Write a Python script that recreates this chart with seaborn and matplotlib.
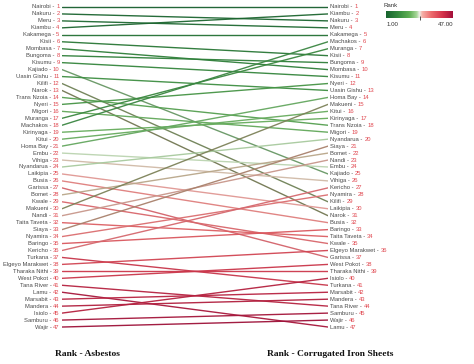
import numpy as np
import pandas as pd
import matplotlib
matplotlib.use("Agg")
import matplotlib.pyplot as plt
import seaborn as sns
from matplotlib.colors import LinearSegmentedColormap, to_rgb, Normalize
from matplotlib.transforms import offset_copy

# ---- data ----
asbestos_order = ["Nairobi", "Nakuru", "Meru", "Kiambu", "Kakamega", "Kisii", "Mombasa",
                  "Bungoma", "Kisumu", "Kajiado", "Uasin Gishu", "Kilifi", "Narok",
                  "Trans Nzoia", "Nyeri", "Migori", "Muranga", "Machakos", "Kirinyaga",
                  "Kitui", "Homa Bay", "Embu", "Vihiga", "Nyandarua", "Laikipia", "Busia",
                  "Garissa", "Bomet", "Kwale", "Makueni", "Nandi", "Taita Taveta", "Siaya",
                  "Nyamira", "Baringo", "Kericho", "Turkana", "Elgeyo Marakwet",
                  "Tharaka Nithi", "West Pokot", "Tana River", "Lamu", "Marsabit",
                  "Mandera", "Isiolo", "Samburu", "Wajir"]
iron_order = ["Nairobi", "Kiambu", "Nakuru", "Meru", "Kakamega", "Machakos", "Muranga",
              "Kisii", "Bungoma", "Mombasa", "Kisumu", "Nyeri", "Uasin Gishu", "Homa Bay",
              "Makueni", "Kitui", "Kirinyaga", "Trans Nzoia", "Migori", "Nyandarua",
              "Siaya", "Bomet", "Nandi", "Embu", "Kajiado", "Vihiga", "Kericho", "Nyamira",
              "Kilifi", "Laikipia", "Narok", "Busia", "Baringo", "Taita Taveta", "Kwale",
              "Elgeyo Marakwet", "Garissa", "West Pokot", "Tharaka Nithi", "Isiolo",
              "Turkana", "Marsabit", "Mandera", "Tana River", "Samburu", "Wajir", "Lamu"]
rank_asbestos = [asbestos_order.index(c) + 1 for c in asbestos_order]
rank_iron = [iron_order.index(c) + 1 for c in asbestos_order]
axis_titles = ["Rank - Asbestos", "Rank - Corrugated Iron Sheets"]

# ---- style ----
sns.set_theme(style="white")
plt.rcParams["font.family"] = ["Liberation Sans", "DejaVu Sans"]

cmap = LinearSegmentedColormap.from_list(
    "rg", [(0.0, "#17632f"), (0.18, "#348a3e"), (0.35, "#5faf55"), (0.46, "#a9d79b"),
           (0.5, "#eef0ea"), (0.54, "#f6b1a8"), (0.68, "#ec6a6c"), (0.85, "#d4324a"),
           (1.0, "#a30f3a")])
norm = Normalize(1, 47)

def line_color(a, b):
    ca = np.array(to_rgb(cmap(norm(a))))
    cb = np.array(to_rgb(cmap(norm(b))))
    mix = np.sqrt(ca * cb)
    d = abs(a - b) / 46
    return tuple(np.clip(mix * (0.95 - 0.2 * d), 0, 1))

rows = []
for c, a, b in zip(asbestos_order, rank_asbestos, rank_iron):
    rows.append({"county": c, "side": 0, "rank": a})
    rows.append({"county": c, "side": 1, "rank": b})
df = pd.DataFrame(rows)
palette = {c: line_color(a, b) for c, a, b in zip(asbestos_order, rank_asbestos, rank_iron)}

W, H = 474, 364
fig = plt.figure(figsize=(W / 100, H / 100), dpi=100)
ax = fig.add_axes([62 / W, 1 - 330.5 / H, (328 - 62) / W, (330.5 - 3.5) / H])
sns.lineplot(data=df, x="side", y="rank", hue="county", palette=palette,
             legend=False, estimator=None, sort=False, lw=1.0, alpha=0.95, ax=ax)
ax.set_xlim(0, 1)
ax.set_ylim(47.5, 0.5)
ax.axis("off")

fig.canvas.draw()
renderer = fig.canvas.get_renderer()
fs = 4.25
name_col = "#4a4a4a"
num_col = "#e0474f"
space = 1.4

for c, a in zip(asbestos_order, rank_asbestos):
    t = ax.text(0, a, str(a), ha="right", va="center", fontsize=fs, color=num_col,
                transform=offset_copy(ax.transData, fig=fig, x=-2.5, y=0, units="dots"))
    w = t.get_window_extent(renderer).width
    ax.text(0, a, c + " -", ha="right", va="center", fontsize=fs, color=name_col,
            transform=offset_copy(ax.transData, fig=fig, x=-2.5 - w - space, y=0, units="dots"))

for c, b in zip(iron_order, range(1, 48)):
    t = ax.text(1, b, c + " -", ha="left", va="center", fontsize=fs, color=name_col,
                transform=offset_copy(ax.transData, fig=fig, x=2.5, y=0, units="dots"))
    w = t.get_window_extent(renderer).width
    ax.text(1, b, str(b), ha="left", va="center", fontsize=fs, color=num_col,
            transform=offset_copy(ax.transData, fig=fig, x=2.5 + w + space, y=0, units="dots"))

# bottom titles
fig.text(87.5 / W, 1 - 353.5 / H, axis_titles[0], ha="center", va="center",
         fontsize=6.8, fontweight="bold", family="Liberation Serif", color="#111111")
fig.text(330 / W, 1 - 353.5 / H, axis_titles[1], ha="center", va="center",
         fontsize=6.8, fontweight="bold", family="Liberation Serif", color="#111111")

# colour legend
fig.text(383 / W, 1 - 5.5 / H, "Rank", ha="left", va="center", fontsize=4.4, color="#333333")
cax = fig.add_axes([386 / W, 1 - 18 / H, (453 - 386) / W, 7 / H])
grad = np.linspace(1, 47, 256).reshape(1, -1)
cax.imshow(grad, aspect="auto", cmap=cmap, norm=norm, extent=[1, 47, 0, 1])
cax.set_xticks([]); cax.set_yticks([])
for s in cax.spines.values():
    s.set_visible(False)
cax.plot([24], [0.0], marker="|", color="#333333", markersize=2.5, mew=0.6, clip_on=False)
fig.text(387 / W, 1 - 25 / H, "1.00", ha="left", va="center", fontsize=4.4, color="#333333")
fig.text(453 / W, 1 - 25 / H, "47.00", ha="right", va="center", fontsize=4.4, color="#333333")

fig.savefig("out.png", dpi=100)
